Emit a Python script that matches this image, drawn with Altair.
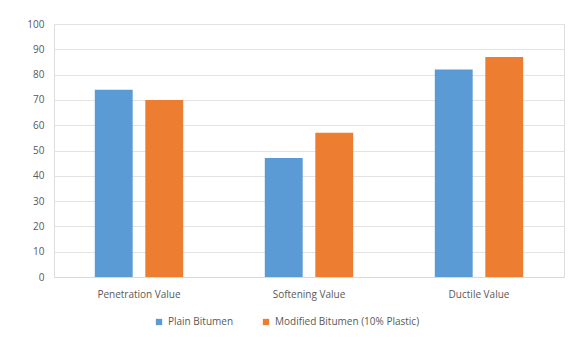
import altair as alt
import pandas as pd

categories = ["Penetration Value", "Softening Value", "Ductile Value"]
series = ["Plain Bitumen", "Modified Bitumen (10% Plastic)"]
plain = [74, 47, 82]
modified = [70, 57, 87]

rows = []
for c, p, m in zip(categories, plain, modified):
    rows.append({"Test": c, "Series": series[0], "Value": p})
    rows.append({"Test": c, "Series": series[1], "Value": m})
df = pd.DataFrame(rows)

font = "Open Sans"
chart = alt.Chart(df).mark_bar().encode(
    x=alt.X("Test:N", sort=categories, title=None,
            scale=alt.Scale(paddingInner=0.48, paddingOuter=0.24),
            axis=alt.Axis(labelAngle=0, ticks=False, domainColor="#d9d9d9",
                          labelColor="#595959", labelFontSize=10, labelPadding=12,
                          labelFont=font)),
    xOffset=alt.XOffset("Series:N", sort=series,
                        scale=alt.Scale(paddingInner=0.25, paddingOuter=0)),
    y=alt.Y("Value:Q", title=None,
            scale=alt.Scale(domain=[0, 100]),
            axis=alt.Axis(values=list(range(0, 101, 10)), domain=False, ticks=False,
                          gridColor="#e3e3e3", labelColor="#595959", labelFontSize=10,
                          labelPadding=10, labelFont=font)),
    color=alt.Color("Series:N", sort=series, title=None,
                    scale=alt.Scale(domain=series, range=["#5B9BD5", "#ED7D31"]),
                    legend=alt.Legend(orient="none", legendX=100, legendY=293,
                                      direction="horizontal", symbolType="square",
                                      symbolSize=40, labelFontSize=10, labelColor="#595959",
                                      labelFont=font, columnPadding=27, symbolStrokeWidth=0)),
).properties(
    width=510, height=253,
    padding={"left": 54, "top": 24, "right": 10, "bottom": 63},
    autosize=alt.AutoSizeParams(type="none"),
).configure_view(stroke=None).configure(background="white")

chart.save("out.html", embed_options={"renderer": "svg", "actions": False})
